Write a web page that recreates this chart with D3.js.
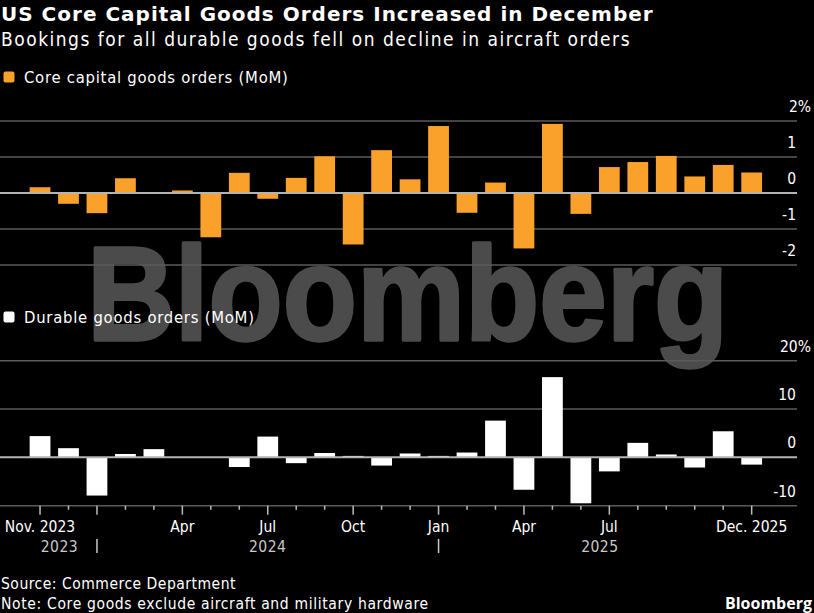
<!DOCTYPE html>
<html>
<head>
<meta charset="utf-8">
<script src="https://cdn.jsdelivr.net/npm/d3@7"></script>
<style>
  html, body { margin: 0; padding: 0; background: #000; }
  svg { display: block; }
  text { font-family: "DejaVu Sans Condensed", "DejaVu Sans", sans-serif; font-stretch: condensed; fill: #fff; }
</style>
</head>
<body>
<div id="chart"></div>
<script>
// Months on the x axis
const months = ["Nov 2023", "Dec 2023", "Jan 2024", "Feb 2024", "Mar 2024", "Apr 2024", "May 2024",
  "Jun 2024", "Jul 2024", "Aug 2024", "Sep 2024", "Oct 2024", "Nov 2024", "Dec 2024",
  "Jan 2025", "Feb 2025", "Mar 2025", "Apr 2025", "May 2025", "Jun 2025", "Jul 2025",
  "Aug 2025", "Sep 2025", "Oct 2025", "Nov 2025", "Dec 2025"];

// Core capital goods orders, MoM %
const coreValues = [0.16, -0.30, -0.56, 0.41, 0.0, 0.07, -1.23, 0.56, -0.16, 0.42, 1.02, -1.43, 1.19,
  0.38, 1.86, -0.55, 0.29, -1.54, 1.92, -0.58, 0.72, 0.86, 1.03, 0.46, 0.78, 0.57];

// Durable goods orders, MoM %
const durableValues = [4.4, 1.9, -7.9, 0.7, 1.7, -0.1, 0.05, -2.0, 4.3, -1.2, 0.9, 0.3, -1.7,
  0.8, 0.3, 1.0, 7.6, -6.7, 16.6, -9.5, -2.9, 3.0, 0.6, -2.1, 5.4, -1.5];

const coreTicks = [-2, -1, 0, 1, 2];
const durableTicks = [-10, 0, 10, 20];

// month labels shown under the axis
const monthLabels = [
  { month: "Nov 2023", label: "Nov. 2023" },
  { month: "Apr 2024", label: "Apr" },
  { month: "Jul 2024", label: "Jul" },
  { month: "Oct 2024", label: "Oct" },
  { month: "Jan 2025", label: "Jan" },
  { month: "Apr 2025", label: "Apr" },
  { month: "Jul 2025", label: "Jul" },
  { month: "Dec 2025", label: "Dec. 2025" }
];
const majorTicks = ["Nov 2023", "Jan 2024", "Apr 2024", "Jul 2024", "Oct 2024", "Jan 2025", "Apr 2025", "Jul 2025", "Dec 2025"];
const yearSeparators = ["Jan 2024", "Jan 2025"];

const width = 814, height = 613;
const gridRight = 797;

const svg = d3.select("#chart")
  .append("svg")
    .attr("width", width)
    .attr("height", height);

svg.append("rect").attr("width", width).attr("height", height).attr("fill", "#000");

// Watermark (stretched vertically so its natural width fits)
svg.append("text")
  .attr("transform", "translate(87,340) scale(1,1.1)")
  .style("font-family", "'Liberation Sans', Arial, sans-serif")
  .style("font-stretch", "normal")
  .style("font-weight", "bold")
  .style("font-size", "121.5px")
  .style("fill", "#4b4b4b")
  .style("stroke", "#4b4b4b")
  .style("stroke-width", 3)
  .style("stroke-linejoin", "round")
  .text("Bloomberg");

// X scale, shared by both panels
const x = d3.scaleBand()
  .domain(months)
  .range([25.8, 765.9])
  .paddingInner(0.27)
  .paddingOuter(0.135);

const yTop = d3.scaleLinear().domain([-2, 2]).range([265, 121]);
const yBot = d3.scaleLinear().domain([-10, 20]).range([505.7, 360.7]);

function drawPanel(yScale, ticks, values, color) {
  // gridlines
  svg.selectAll(null)
    .data(ticks.filter(t => t !== 0))
    .join("line")
    .attr("x1", 0).attr("x2", gridRight)
    .attr("y1", d => yScale(d)).attr("y2", d => yScale(d))
    .attr("stroke", "#5a5a5a")
    .attr("stroke-width", 1.5);

  // bars
  svg.selectAll(null)
    .data(values)
    .join("rect")
    .attr("x", (d, i) => x(months[i]))
    .attr("y", d => yScale(Math.max(0, d)))
    .attr("width", x.bandwidth())
    .attr("height", d => Math.abs(yScale(d) - yScale(0)))
    .attr("fill", color);

  // zero line
  svg.append("line")
    .attr("x1", 0).attr("x2", gridRight)
    .attr("y1", yScale(0)).attr("y2", yScale(0))
    .attr("stroke", "#b4b4b4")
    .attr("stroke-width", 2);

  // tick labels
  const maxTick = d3.max(ticks);
  svg.selectAll(null)
    .data(ticks)
    .join("text")
    .attr("x", d => d === maxTick ? 811 : gridRight - 1)
    .attr("y", d => yScale(d) - 9)
    .attr("text-anchor", "end")
    .style("font-size", "15.5px")
    .text(d => d === maxTick ? d + "%" : d);
}

drawPanel(yTop, coreTicks, coreValues, "#f9a12a");
drawPanel(yBot, durableTicks, durableValues, "#ffffff");

// Titles
svg.append("text")
  .attr("x", 1).attr("y", 20.5)
  .style("font-family", "'DejaVu Sans', sans-serif")
  .style("font-stretch", "normal")
  .style("font-size", "20px")
  .style("font-weight", "bold")
  .style("letter-spacing", "1px")
  .text("US Core Capital Goods Orders Increased in December");

svg.append("text")
  .attr("x", 1).attr("y", 46)
  .style("font-size", "19px")
  .style("letter-spacing", "1.5px")
  .text("Bookings for all durable goods fell on decline in aircraft orders");

// Legends
function legend(yPos, color, label) {
  svg.append("rect")
    .attr("x", 3.5).attr("y", yPos - 11.5)
    .attr("width", 11).attr("height", 11)
    .attr("rx", 2)
    .attr("fill", color);
  svg.append("text")
    .attr("x", 24).attr("y", yPos)
    .style("font-size", "16.5px")
    .style("letter-spacing", "0.75px")
    .text(label);
}
legend(83, "#f9a12a", "Core capital goods orders (MoM)");
legend(323, "#ffffff", "Durable goods orders (MoM)");

// X axis ticks
const axisY = yBot(-10);
svg.selectAll(null)
  .data(months)
  .join("line")
  .attr("x1", d => x(d) + x.bandwidth() / 2)
  .attr("x2", d => x(d) + x.bandwidth() / 2)
  .attr("y1", axisY)
  .attr("y2", d => axisY + (majorTicks.includes(d) ? 9 : 4))
  .attr("stroke", "#bbb")
  .attr("stroke-width", 1.5);

svg.selectAll(null)
  .data(monthLabels)
  .join("text")
  .attr("x", d => x(d.month) + x.bandwidth() / 2)
  .attr("y", 532)
  .attr("text-anchor", "middle")
  .style("font-size", "15.5px")
  .text(d => d.label);

// year row
const yearLabels = [
  { month: "Dec 2023", label: "2023", dx: -9 },
  { month: "Jul 2024", label: "2024", dx: 0 },
  { month: "Jun 2025", label: "2025", dx: 19 }
];
svg.selectAll(null)
  .data(yearLabels)
  .join("text")
  .attr("x", d => x(d.month) + x.bandwidth() / 2 + d.dx)
  .attr("y", 552)
  .attr("text-anchor", "middle")
  .style("font-size", "15.5px")
  .style("letter-spacing", "0.5px")
  .style("fill", "#c8c8c8")
  .text(d => d.label);

svg.selectAll(null)
  .data(yearSeparators)
  .join("line")
  .attr("x1", d => x(d) + x.bandwidth() / 2)
  .attr("x2", d => x(d) + x.bandwidth() / 2)
  .attr("y1", 539).attr("y2", 553)
  .attr("stroke", "#c8c8c8")
  .attr("stroke-width", 1.5);

// Footer
svg.append("text")
  .attr("x", 1).attr("y", 589)
  .style("font-size", "15.5px")
  .style("letter-spacing", "0.5px")
  .text("Source: Commerce Department");
svg.append("text")
  .attr("x", 1).attr("y", 609)
  .style("font-size", "15.5px")
  .style("letter-spacing", "0.65px")
  .text("Note: Core goods exclude aircraft and military hardware");
svg.append("text")
  .attr("x", 812).attr("y", 609)
  .attr("text-anchor", "end")
  .style("font-family", "'Open Sans', 'Liberation Sans', sans-serif")
  .style("font-stretch", "normal")
  .style("font-weight", "bold")
  .style("font-size", "16px")
  .text("Bloomberg");
</script>
</body>
</html>
